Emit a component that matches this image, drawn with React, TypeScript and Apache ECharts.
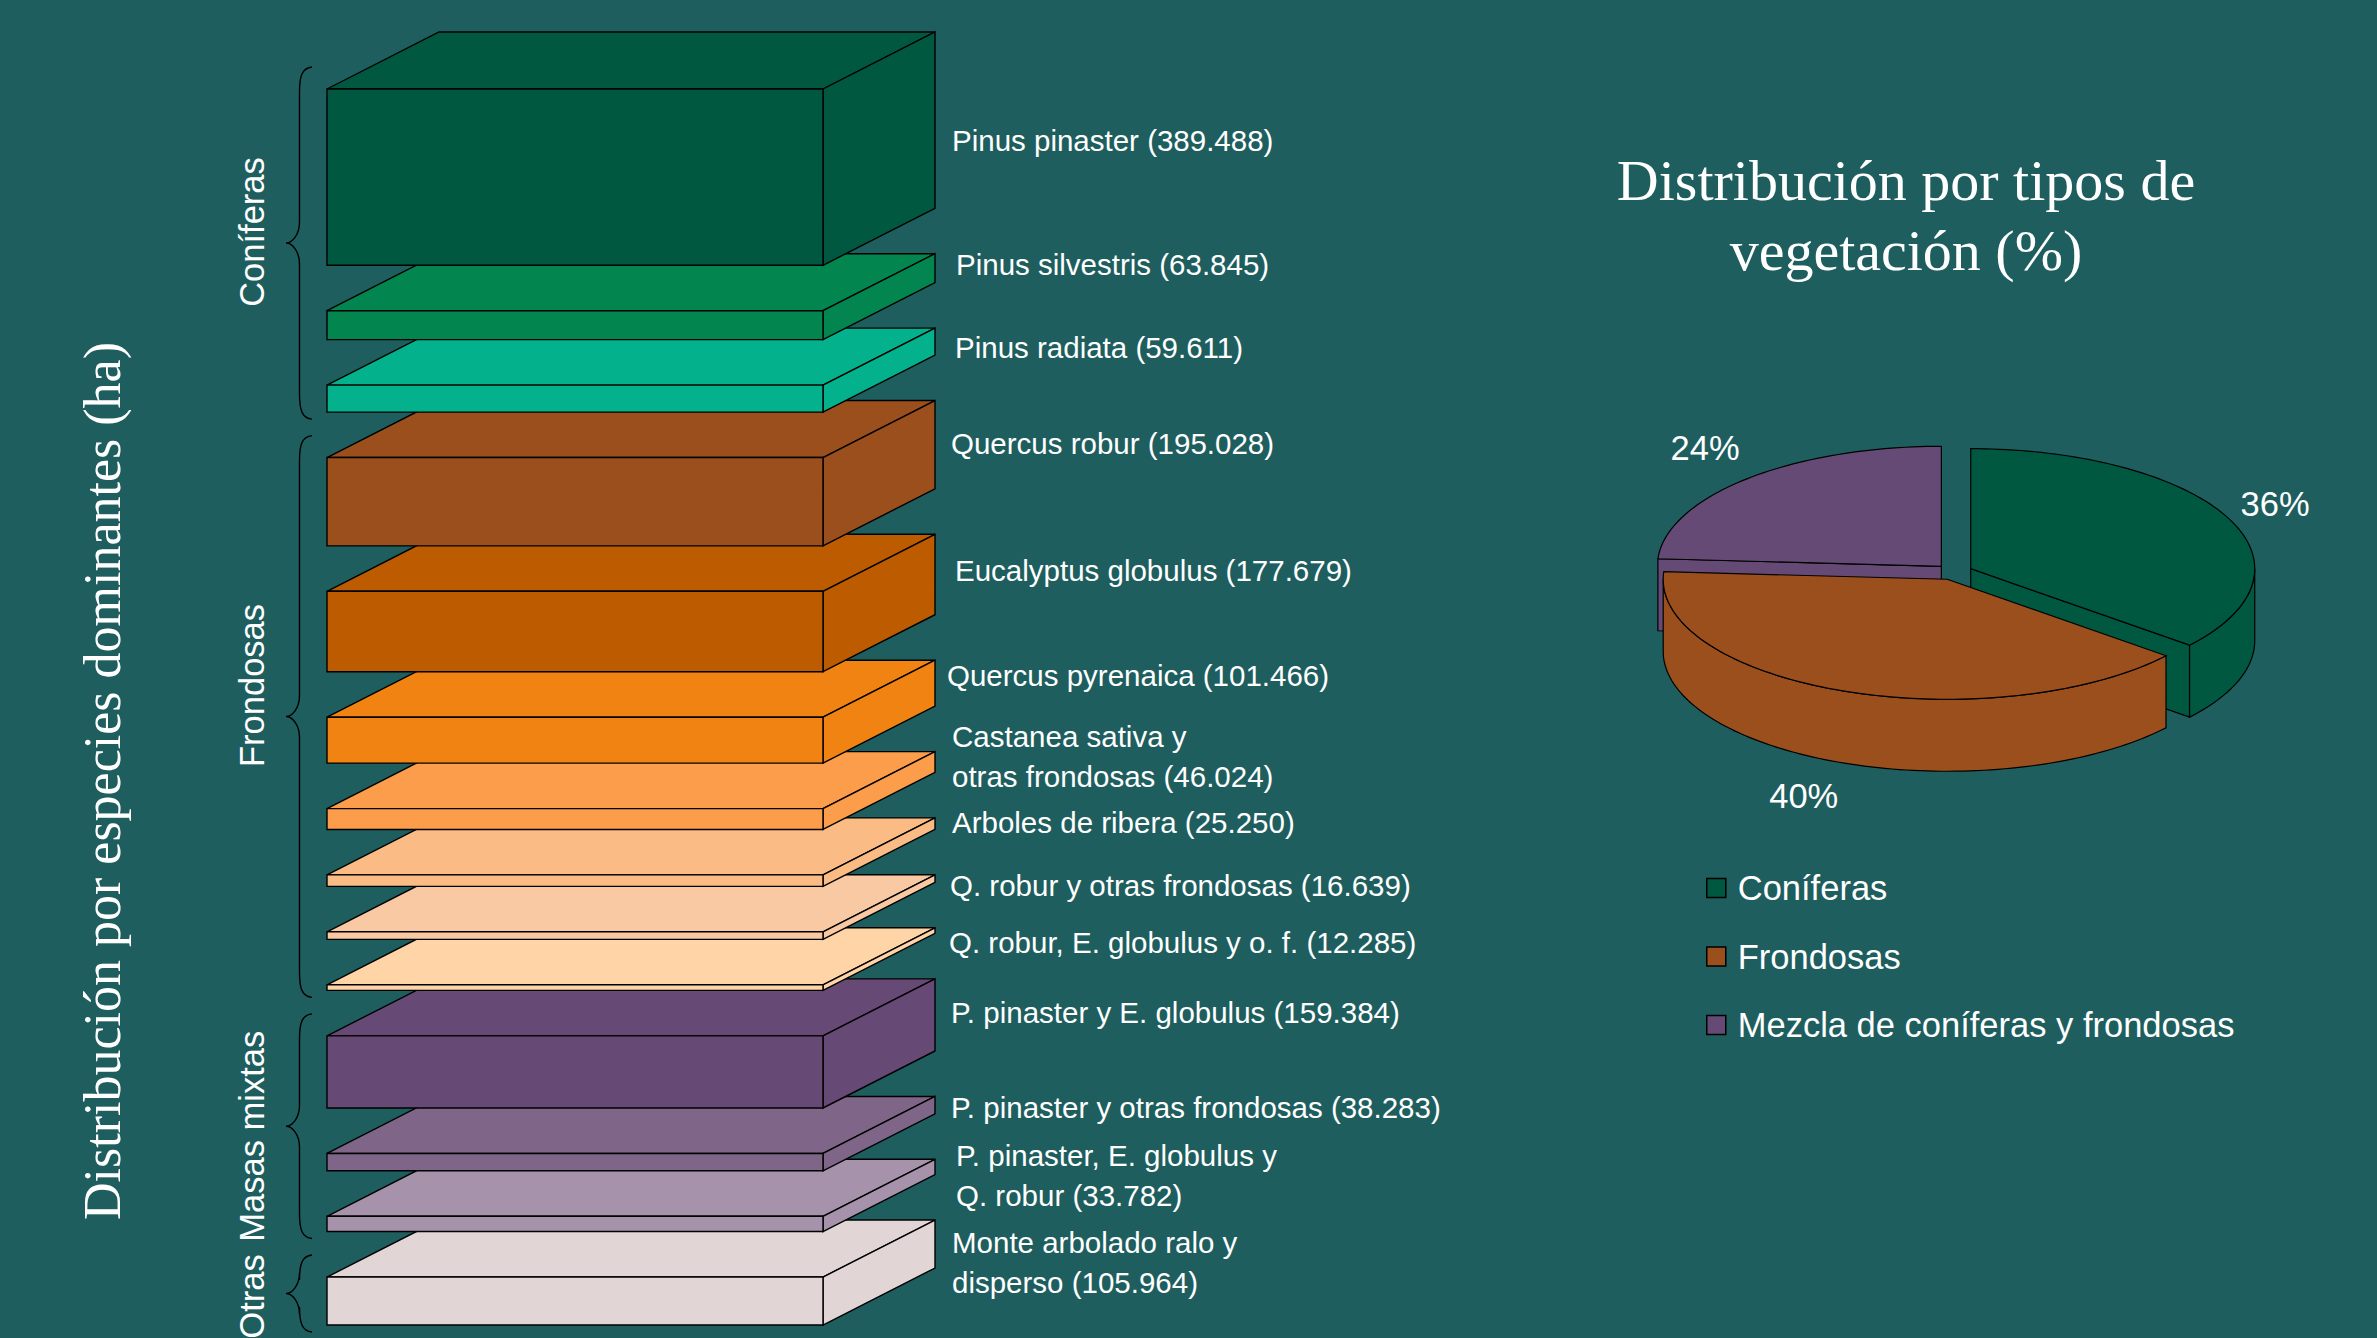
import React, { useEffect, useRef } from "react";
import * as echarts from "echarts";

// ---------------- data ----------------
const SPECIES: string[] = [
  "Pinus pinaster",
  "Pinus silvestris",
  "Pinus radiata",
  "Quercus robur",
  "Eucalyptus globulus",
  "Quercus pyrenaica",
  "Castanea sativa y\notras frondosas",
  "Arboles de ribera",
  "Q. robur y otras frondosas",
  "Q. robur, E. globulus y o. f.",
  "P. pinaster y E. globulus",
  "P. pinaster y otras frondosas",
  "P. pinaster, E. globulus y\nQ. robur",
  "Monte arbolado ralo y\ndisperso",
];
const AREA_HA: number[] = [
  389488, 63845, 59611, 195028, 177679, 101466, 46024, 25250, 16639, 12285,
  159384, 38283, 33782, 105964,
];
const SPECIES_GROUP: number[] = [0, 0, 0, 1, 1, 1, 1, 1, 1, 1, 2, 2, 2, 3];
const GROUPS: string[] = ["Coníferas", "Frondosas", "Masas mixtas", "Otras"];
const SPECIES_COLORS: string[] = [
  "#005840", "#02854f", "#03b28c",
  "#9b4f1c", "#bd5b00", "#f08312", "#fb9d4a", "#fbbb85", "#f8c9a2", "#ffd5a8",
  "#664a75", "#7f6689", "#a692ab",
  "#e1d5d5",
];

const PIE_TYPES: string[] = ["Coníferas", "Frondosas", "Mezcla de coníferas y frondosas"];
const PIE_PERCENT: number[] = [36, 40, 24];
const PIE_COLORS: string[] = ["#005840", "#9b4f1c", "#654a75"];

const LEFT_TITLE = "Distribución por especies dominantes (ha)";
const RIGHT_TITLE = "Distribución por tipos de\nvegetación (%)";

// ---------------- layout constants ----------------
const W = 2377;
const H = 1338;
const BG = "#1e5e5e";
const SANS = "'Liberation Sans', Arial, Helvetica, sans-serif";
const SERIF = "'Liberation Serif', 'Times New Roman', serif";
const DX = 112; // box depth, x
const DY = 57; // box depth, y
const GAP_HA = 100500; // vertical gap between boxes, in axis units
const PIE_K = 120 / 284; // ellipse squash
const PIE_DEPTH = 72;
const PIE_EXPLODE = 18.5 / 284;
// hand placement of the labels, as in the original slide (pixels)
const LABEL_NUDGE_Y = [16, -8, 2, -5, -8, -12, -10, -5, 3, 8, -6, -2, 5, 14];
const LABEL_NUDGE_X = [0, 4, 3, -1, 3, -5, 0, 0, -2, -3, -1, -1, 4, 0];
const GROUP_LABEL_NUDGE_Y = [-11, -31, 10, 3];
const PIE_LABEL_NUDGE: number[][] = [[-4, -3], [-18, 11], [-3, -13]];

const STARTS: number[] = [];
{
  let acc = 0;
  AREA_HA.forEach((v, i) => {
    STARTS.push(acc + i * GAP_HA);
    acc += v;
  });
}
const AXIS_MAX = AREA_HA.reduce((a, b) => a + b, 0) + (AREA_HA.length - 1) * GAP_HA;

const PIE_START: number[] = [];
{
  let acc = 0;
  PIE_PERCENT.forEach((v) => {
    PIE_START.push(acc);
    acc += v;
  });
}

const fmt = (n: number) => String(n).replace(/\B(?=(\d{3})+(?!\d))/g, ".");

function boxRender(params: any, api: any) {
  const i = api.value(0) as number;
  const start = STARTS[i];
  const end = start + AREA_HA[i];
  const a = api.coord([0, start]);
  const b = api.coord([1, end]);
  const x0 = a[0], yT = a[1], x1 = b[0], yB = b[1];
  const style = { fill: SPECIES_COLORS[i], stroke: "#000", lineWidth: 1.4 };
  return {
    type: "group",
    children: [
      {
        type: "polygon",
        shape: { points: [[x0, yT], [x1, yT], [x1 + DX, yT - DY], [x0 + DX, yT - DY]] },
        style,
      },
      {
        type: "polygon",
        shape: { points: [[x1, yT], [x1 + DX, yT - DY], [x1 + DX, yB - DY], [x1, yB]] },
        style,
      },
      { type: "rect", shape: { x: x0, y: yT, width: x1 - x0, height: yB - yT }, style },
      {
        type: "text",
        x: x1 + DX + 17 + LABEL_NUDGE_X[i],
        y: yT - DY + (yB - yT) / 2 + 4 + LABEL_NUDGE_Y[i],
        style: {
          text: SPECIES[i] + " (" + fmt(AREA_HA[i]) + ")",
          fill: "#ffffff",
          fontSize: 29.5,
          fontFamily: SANS,
          align: "left",
          verticalAlign: "middle",
          lineHeight: 40,
        },
      },
    ],
  };
}

function braceRender(params: any, api: any) {
  const g = api.value(0) as number;
  const idx = SPECIES_GROUP.map((s, i) => (s === g ? i : -1)).filter((i) => i >= 0);
  const first = idx[0];
  const last = idx[idx.length - 1];
  const left = api.coord([0, 0])[0];
  const yT = api.coord([0, STARTS[first]])[1] - 22;
  const yB = api.coord([0, STARTS[last] + AREA_HA[last]])[1] + 7;
  const yM = (yT + yB) / 2;
  const xe = left - 15;
  const xs = left - 27.5;
  const xt = left - 41;
  const d =
    `M${xe},${yT} C${xs + 3},${yT + 1} ${xs},${yT + 8} ${xs},${yT + 25} ` +
    `L${xs},${yM - 21} C${xs},${yM - 8} ${xt + 6},${yM} ${xt},${yM} ` +
    `C${xt + 6},${yM} ${xs},${yM + 8} ${xs},${yM + 21} ` +
    `L${xs},${yB - 25} C${xs},${yB - 8} ${xs + 3},${yB - 1} ${xe},${yB}`;
  return {
    type: "group",
    children: [
      { type: "path", shape: { pathData: d }, style: { fill: "none", stroke: "#000", lineWidth: 1.4 } },
      {
        type: "text",
        x: left - 75,
        y: yM + GROUP_LABEL_NUDGE_Y[g],
        rotation: Math.PI / 2,
        style: {
          text: GROUPS[g],
          fill: "#ffffff",
          fontSize: 34.5,
          fontFamily: SANS,
          align: "center",
          verticalAlign: "middle",
        },
      },
    ],
  };
}

function makePieRender(k: number) {
  return (params: any, api: any) => {
    const a0 = PIE_START[k];
    const a1 = a0 + PIE_PERCENT[k];
    const c = api.coord([0, 0]);
    const sq = (p: number[]) => [p[0], c[1] + (p[1] - c[1]) * PIE_K];
    const mid = (a0 + a1) / 2;
    const e = sq(api.coord([PIE_EXPLODE, mid]));
    const ox = e[0] - c[0];
    const oy = e[1] - c[1];
    const pt = (t: number, r = 1) => {
      const p = sq(api.coord([r, t]));
      return [p[0] + ox, p[1] + oy];
    };
    const arc = (s: number, en: number) => {
      const n = Math.max(2, Math.ceil((en - s) / 0.4));
      const out: number[][] = [];
      for (let j = 0; j <= n; j++) out.push(pt(s + ((en - s) * j) / n));
      return out;
    };
    const V = [c[0] + ox, c[1] + oy];
    const down = (p: number[]) => [p[0], p[1] + PIE_DEPTH];
    const style = { fill: PIE_COLORS[k], stroke: "#000", lineWidth: 1.2 };
    const children: any[] = [];
    const rad = (t: number) => (t / 100) * Math.PI * 2;
    // radial faces that face the viewer
    if (Math.sin(rad(a0)) < -1e-6) {
      const P = pt(a0);
      children.push({ type: "polygon", shape: { points: [V, P, down(P), down(V)] }, style });
    }
    if (Math.sin(rad(a1)) > 1e-6) {
      const P = pt(a1);
      children.push({ type: "polygon", shape: { points: [V, P, down(P), down(V)] }, style });
    }
    // outer wall (front half only)
    const ws = Math.max(a0, 25);
    const we = Math.min(a1, 75);
    if (we > ws) {
      const top = arc(ws, we);
      const bottom = top.map(down).reverse();
      children.push({ type: "polygon", shape: { points: top.concat(bottom) }, style });
    }
    // top face
    children.push({ type: "polygon", shape: { points: [V].concat(arc(a0, a1)) }, style });
    // label
    const lp = pt(mid, 1.2);
    const front = Math.cos(rad(mid)) < 0;
    children.push({
      type: "text",
      x: lp[0] + PIE_LABEL_NUDGE[k][0],
      y: lp[1] + (front ? PIE_DEPTH : 0) + PIE_LABEL_NUDGE[k][1],
      style: {
        text: PIE_PERCENT[k] + "%",
        fill: "#ffffff",
        fontSize: 34.5,
        fontFamily: SANS,
        align: "center",
        verticalAlign: "middle",
      },
    });
    return { type: "group", children };
  };
}

// painter order: back slices first
const PIE_DRAW_ORDER = [2, 0, 1];

export default function App() {
  const ref = useRef<HTMLDivElement>(null);
  useEffect(() => {
    if (!ref.current) return;
    const chart = echarts.init(ref.current, undefined, { renderer: "svg" });
    const order = AREA_HA.map((_, i) => AREA_HA.length - 1 - i);
    chart.setOption({
      animation: false,
      backgroundColor: BG,
      grid: { left: 327, top: 89, width: 496, height: 1236 },
      xAxis: { type: "value", min: 0, max: 1, show: false },
      yAxis: { type: "value", min: 0, max: AXIS_MAX, inverse: true, show: false },
      polar: { center: [1954, 572], radius: 284 },
      angleAxis: { type: "value", min: 0, max: 100, startAngle: 90, clockwise: true, show: false },
      radiusAxis: { type: "value", min: 0, max: 1, show: false },
      legend: {
        orient: "vertical",
        left: 1706,
        top: 868,
        padding: 0,
        itemWidth: 19,
        itemHeight: 19,
        itemGap: 28.5,
        icon: "rect",
        selectedMode: false,
        data: PIE_TYPES.map((n, k) => ({
          name: n,
          itemStyle: { color: PIE_COLORS[k], borderColor: "#000", borderWidth: 1.5 },
        })),
        textStyle: {
          color: "#ffffff",
          fontSize: 34.5,
          fontFamily: SANS,
          lineHeight: 40,
          padding: [0, 0, 0, 7],
        },
      },
      graphic: [
        {
          type: "text",
          x: 102,
          y: 781,
          rotation: Math.PI / 2,
          style: {
            text: LEFT_TITLE,
            fill: "#ffffff",
            fontSize: 52,
            fontFamily: SERIF,
            align: "center",
            verticalAlign: "middle",
          },
        },
        {
          type: "text",
          x: 1906,
          y: 215,
          style: {
            text: RIGHT_TITLE,
            fill: "#ffffff",
            fontSize: 58,
            fontFamily: SERIF,
            align: "center",
            verticalAlign: "middle",
            lineHeight: 70,
          },
        },
      ],
      series: [
        {
          type: "custom",
          name: "especies",
          coordinateSystem: "cartesian2d",
          clip: false,
          silent: true,
          data: order.map((i) => [i, AREA_HA[i]]),
          renderItem: boxRender,
        },
        {
          type: "custom",
          name: "grupos",
          coordinateSystem: "cartesian2d",
          clip: false,
          silent: true,
          data: GROUPS.map((_, g) => [g, 0]),
          renderItem: braceRender,
        },
        ...PIE_DRAW_ORDER.map((k) => ({
          type: "custom",
          name: PIE_TYPES[k],
          coordinateSystem: "polar",
          silent: true,
          itemStyle: { color: PIE_COLORS[k] },
          data: [[1, PIE_PERCENT[k]]],
          renderItem: makePieRender(k),
        })),
      ],
    });
    return () => chart.dispose();
  }, []);
  return (
    <div
      ref={ref}
      style={{ position: "fixed", left: 0, top: 0, width: W, height: H, background: BG }}
    />
  );
}
